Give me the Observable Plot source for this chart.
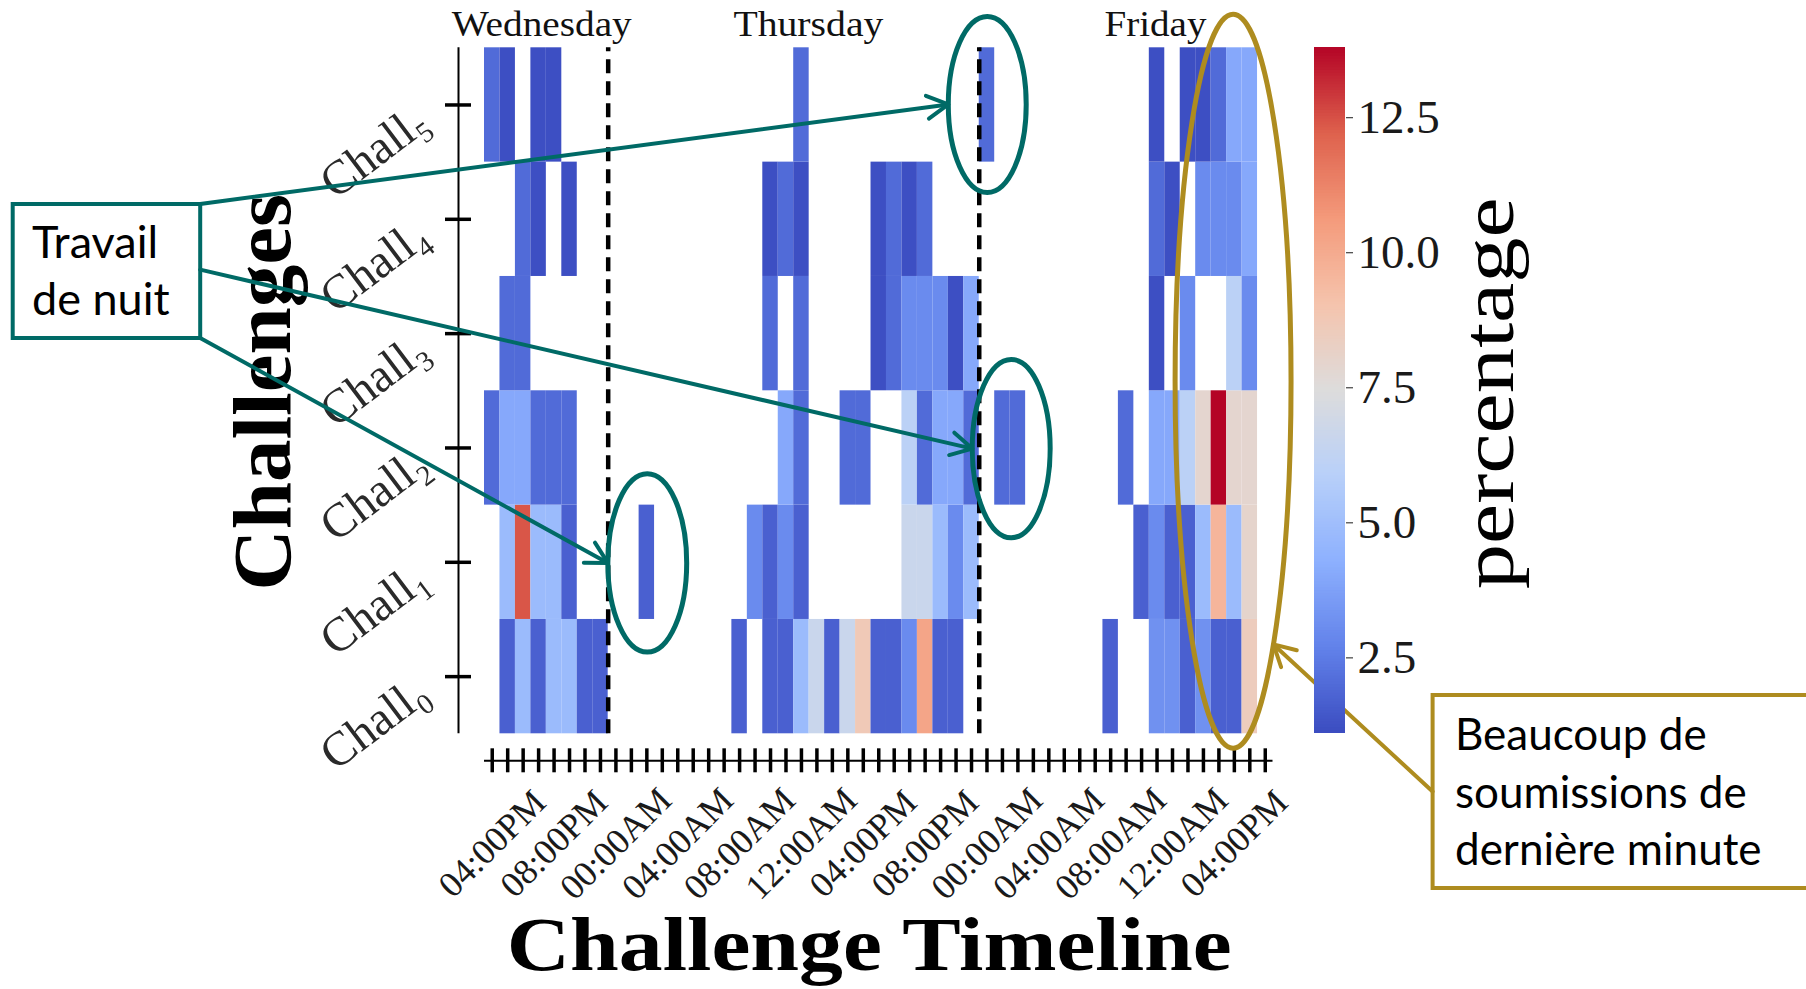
<!DOCTYPE html>
<html><head><meta charset="utf-8">
<script src="https://cdn.jsdelivr.net/npm/d3@7"></script>
<script src="https://cdn.jsdelivr.net/npm/@observablehq/plot@0.6"></script>
<style>
html,body{margin:0;padding:0;background:#fff;}
#fig{position:relative;width:1806px;height:989px;overflow:hidden;background:#fff;}
#fig svg{position:absolute;overflow:visible;}
</style></head><body><div id="fig"></div>
<script>
// ---------------- data ----------------
// hourly columns starting Wednesday 04:00PM (index 0) up to Friday 06:00PM (index 50)
const hourTickLabels = ["04:00PM","08:00PM","00:00AM","04:00AM","08:00AM","12:00AM","04:00PM","08:00PM","00:00AM","04:00AM","08:00AM","12:00AM","04:00PM"];
const labelHours = [0,4,8,12,16,20,24,28,32,36,40,44,48];
const dayNames = ["Wednesday","Thursday","Friday"];
const dayLabelHours = [3.7, 20.95, 43.4];
const midnightHours = [8, 32];
const challengeNames = ["Chall\u2080","Chall\u2081","Chall\u2082","Chall\u2083","Chall\u2084","Chall\u2085"];
const colorbarTicks = [2.5, 5.0, 7.5, 10.0, 12.5];
const colorDomain = [1.1, 13.8];

const chall0 = [null,1.7,4.8,1.7,4.8,4.8,1.7,1.7,
  null,null,null,null,null,null,null,null,
  1.7,null,1.7,1.7,4.8,6.6,1.7,6.6,
  8.7,1.7,1.7,3.0,10.2,1.7,1.7,null,
  null,null,null,null,null,null,null,null,
  1.7,null,null,3.2,3.2,1.7,3.2,1.7,
  1.7,8.5,null];
const chall1 = [null,4.8,12.4,4.8,4.8,1.7,null,null,
  null,null,1.7,null,null,null,null,null,
  null,3.0,1.7,3.0,1.7,null,null,null,
  null,null,null,6.6,6.6,4.8,3.0,4.8,
  null,null,null,null,null,null,null,null,
  null,null,1.7,3.0,1.7,1.7,4.8,9.6,
  4.8,8.0,null];
const chall2 = [2.0,4.0,4.0,2.0,2.0,2.0,null,null,
  null,null,null,null,null,null,null,null,
  null,null,null,4.0,2.0,null,null,2.0,
  2.0,null,null,6.0,2.0,4.0,4.0,2.0,
  null,2.0,2.0,null,null,null,null,null,
  null,2.0,null,4.0,4.0,6.0,7.9,13.8,
  7.9,7.9,null];
const chall3 = [null,2.0,2.0,null,null,null,null,null,
  null,null,null,null,null,null,null,null,
  null,null,2.0,null,2.0,null,null,null,
  null,1.2,2.0,3.0,3.0,3.0,1.2,4.0,
  null,null,null,null,null,null,null,null,
  null,null,null,1.2,null,3.0,null,null,
  6.0,3.0,null];
const chall4 = [null,null,2.0,1.2,null,1.2,null,null,
  null,null,null,null,null,null,null,null,
  null,null,1.2,2.0,1.2,null,null,null,
  null,1.2,2.0,1.2,2.0,null,null,null,
  null,null,null,null,null,null,null,null,
  null,null,null,2.0,1.2,null,3.0,3.0,
  3.0,4.0,null];
const chall5 = [2.0,1.2,null,1.2,1.2,null,null,null,
  null,null,null,null,null,null,null,null,
  null,null,null,null,2.0,null,null,null,
  null,null,null,null,null,null,null,null,
  2.0,null,null,null,null,null,null,null,
  null,null,null,1.2,null,1.2,1.2,2.0,
  4.0,4.0,null];

// annotations, in data coordinates (hour index, row index from Chall0 at the bottom)
const nightEllipses = [{h:32.55, r:5.5, rh:2.52, rr:0.77},{h:34.1, r:2.49, rh:2.52, rr:0.78},{h:10.56, r:1.49, rh:2.55, rr:0.78}];
const lastMinuteEllipse = {h:48.45, r:3.08, rh:3.75, rr:3.21};

// ---------------- build ----------------
const rowsData = [chall0, chall1, chall2, chall3, chall4, chall5];
const nHours = chall0.length;
const cells = rowsData.flatMap((arr, r) => arr.map((v, h) => ({h, r, v})).filter(d => d.v != null));

const coolwarm = d3.piecewise(d3.interpolateRgb, ["#3b4cc0","#6282ea","#8db0fe","#b8d0f9","#dddcdc","#f5c4ad","#f49a7b","#de614d","#b40426"]);
const serif = "'Liberation Serif','DejaVu Serif',serif";
const sans = "Lato,'Open Sans',sans-serif";
const W = 1806, H = 989;
const frame = {left: 484, right: 1272.5, top: 47.3, bottom: 733.3};
const axisOffset = 27;

const main = Plot.plot({
  width: W, height: H,
  marginLeft: frame.left, marginRight: W - frame.right, marginTop: frame.top, marginBottom: H - frame.bottom,
  style: {background: "transparent", fontFamily: serif, overflow: "visible"},
  x: {type: "linear", domain: [0, nHours], axis: null},
  y: {type: "linear", domain: [0, rowsData.length], axis: null},
  color: {type: "linear", domain: colorDomain, interpolate: coolwarm},
  marks: [
    Plot.rect(cells, {x1: "h", x2: d => d.h + 1, y1: "r", y2: d => d.r + 1, fill: "v"}),
    Plot.ruleX(midnightHours, {x: d => d, y1: 0, y2: rowsData.length, stroke: "#000", strokeWidth: 4.5, strokeDasharray: "14,8"}),
    // x axis
    Plot.ruleY([0], {x1: 0, x2: nHours, dy: axisOffset, stroke: "#000", strokeWidth: 2}),
    Plot.ruleX(d3.range(nHours), {x: d => d + 0.5, y1: 0, y2: 0, insetTop: -12, insetBottom: -12, dy: axisOffset, stroke: "#000", strokeWidth: 3.5}),
    Plot.text(labelHours, {x: d => d + 0.5, y: 0, text: (d, i) => hourTickLabels[i], rotate: -45, textAnchor: "middle", lineAnchor: "middle", dy: 110, fontSize: 36, fill: "#1a1a1a", fontFamily: serif}),
    // y axis
    Plot.ruleX([0], {y1: 0, y2: rowsData.length, dx: -26, stroke: "#000", strokeWidth: 2}),
    Plot.ruleY(d3.range(rowsData.length), {y: d => d + 0.5, x1: 0, x2: 0, insetLeft: -13, insetRight: -13, dx: -26, stroke: "#000", strokeWidth: 3.5}),
    Plot.text(challengeNames, {x: 0, y: (d, i) => i + 0.5, text: d => d, rotate: -37, textAnchor: "end", lineAnchor: "middle", dx: -62, dy: 10, fontSize: 48, fill: "#2a2a2a", fontFamily: serif}),
    // day labels
    Plot.text(dayNames, {x: (d, i) => dayLabelHours[i], y: rowsData.length, text: d => d, textAnchor: "middle", lineAnchor: "bottom", dy: -12, fontSize: 35, fill: "#111", fontFamily: serif})
  ]
});
main.style.left = "0px"; main.style.top = "0px";
document.getElementById("fig").appendChild(main);

// colorbar
const cbN = 240, cbStep = (colorDomain[1] - colorDomain[0]) / cbN;
const cbValues = d3.range(cbN).map(i => colorDomain[0] + i * cbStep);
const cb = Plot.plot({
  width: 200, height: (frame.bottom - frame.top) + 40,
  marginLeft: 0, marginRight: 169, marginTop: 20, marginBottom: 20,
  style: {background: "transparent", fontFamily: serif, fontSize: "47px", color: "#1a1a1a", overflow: "visible"},
  x: {domain: [0, 1], axis: null},
  y: {domain: colorDomain, axis: "right", ticks: colorbarTicks, tickFormat: d3.format(".1f"), tickSize: 7, tickPadding: 5, label: null},
  color: {type: "linear", domain: colorDomain, interpolate: coolwarm},
  marks: [
    Plot.rect(cbValues, {x1: 0, x2: 1, y1: d => d, y2: d => Math.min(colorDomain[1], d + cbStep * 1.6), fill: d => d + cbStep / 2})
  ]
});
cb.style.left = "1314px"; cb.style.top = (frame.top - 20) + "px";
document.getElementById("fig").appendChild(cb);

// ---------------- labels & annotations ----------------
const svg = d3.select(main);
const xs = main.scale("x"), ys = main.scale("y");
const sx = d3.scaleLinear(xs.domain, xs.range);
const sy = d3.scaleLinear(ys.domain, ys.range);

svg.selectAll("text").filter(function() { return dayNames.includes(this.textContent); })
  .each(function() {
    const n = this.textContent;
    const len = {Wednesday: 180, Thursday: 150, Friday: 102}[n];
    d3.select(this).attr("textLength", len).attr("lengthAdjust", "spacingAndGlyphs");
  });

const midY = (frame.top + frame.bottom) / 2;
svg.append("text").text("Challenges")
  .attr("transform", `translate(${frame.left - 194},${midY + 2}) rotate(-90)`)
  .attr("text-anchor", "middle").attr("font-family", serif).attr("font-weight", "bold")
  .attr("font-size", 83).attr("textLength", 397).attr("lengthAdjust", "spacingAndGlyphs").attr("fill", "#000");
svg.append("text").text("Challenge Timeline")
  .attr("x", (frame.left + frame.right) / 2 - 9).attr("y", 970)
  .attr("text-anchor", "middle").attr("font-family", serif).attr("font-weight", "bold")
  .attr("font-size", 76).attr("textLength", 725).attr("lengthAdjust", "spacingAndGlyphs").attr("fill", "#000");
svg.append("text").text("percentage")
  .attr("transform", `translate(1513,${midY + 3}) rotate(-90)`)
  .attr("text-anchor", "middle").attr("font-family", serif)
  .attr("font-size", 74).attr("textLength", 392).attr("lengthAdjust", "spacingAndGlyphs").attr("fill", "#000");

const teal = "#006a66", gold = "#ae8c1f";
const ann = svg.append("g").attr("text-anchor", "start");
function arrow(x0, y0, x1, y1, color, w) {
  ann.append("line").attr("x1", x0).attr("y1", y0).attr("x2", x1).attr("y2", y1)
    .attr("stroke", color).attr("stroke-width", w).attr("stroke-linecap", "round");
  const a = Math.atan2(y1 - y0, x1 - x0), L = 24, phi = 0.5;
  ann.append("path")
    .attr("d", `M${x1 - L * Math.cos(a - phi)},${y1 - L * Math.sin(a - phi)}L${x1},${y1}L${x1 - L * Math.cos(a + phi)},${y1 - L * Math.sin(a + phi)}`)
    .attr("fill", "none").attr("stroke", color).attr("stroke-width", w)
    .attr("stroke-linecap", "round").attr("stroke-linejoin", "round");
}
function ellipse(e, color, w) {
  const cx = sx(e.h), cy = sy(e.r), rx = sx(e.h + e.rh) - cx, ry = cy - sy(e.r + e.rr);
  ann.append("ellipse").attr("cx", cx).attr("cy", cy).attr("rx", rx).attr("ry", ry)
    .attr("fill", "none").attr("stroke", color).attr("stroke-width", w);
  return {cx, cy, rx, ry};
}
// teal callout
const tb = {x: 12.7, y: 204, w: 187.5, h: 134};
const tEl = nightEllipses.map(e => ellipse(e, teal, 5));
ann.append("rect").attr("x", tb.x).attr("y", tb.y).attr("width", tb.w).attr("height", tb.h)
  .attr("fill", "#fff").attr("stroke", teal).attr("stroke-width", 4);
ann.append("text").text("Travail").attr("x", 32).attr("y", 258).attr("text-anchor", "start").attr("font-family", sans).attr("font-size", 45).attr("fill", "#000");
ann.append("text").text("de nuit").attr("x", 32).attr("y", 315).attr("text-anchor", "start").attr("font-family", sans).attr("font-size", 45).attr("fill", "#000");
const origins = [[tb.x + tb.w, tb.y], [tb.x + tb.w, tb.y + tb.h * 0.49], [tb.x + tb.w, tb.y + tb.h]];
tEl.forEach((el, i) => arrow(origins[i][0], origins[i][1], el.cx - el.rx, el.cy, teal, 4));

// gold callout
const gEl = ellipse(lastMinuteEllipse, gold, 5);
const gb = {x: 1432.6, y: 695, w: 420, h: 193};
ann.append("rect").attr("x", gb.x).attr("y", gb.y).attr("width", gb.w).attr("height", gb.h)
  .attr("fill", "#fff").attr("stroke", gold).attr("stroke-width", 4);
["Beaucoup de", "soumissions de", "dernière minute"].forEach((t, i) =>
  ann.append("text").text(t).attr("x", 1455).attr("y", 750 + i * 57.5).attr("text-anchor", "start")
    .attr("font-family", sans).attr("font-size", 44).attr("fill", "#000"));
const th = 0.8;
arrow(gb.x, gb.y + gb.h * 0.5, gEl.cx + gEl.rx * Math.cos(th), gEl.cy + gEl.ry * Math.sin(th), gold, 4);
</script></body></html>
